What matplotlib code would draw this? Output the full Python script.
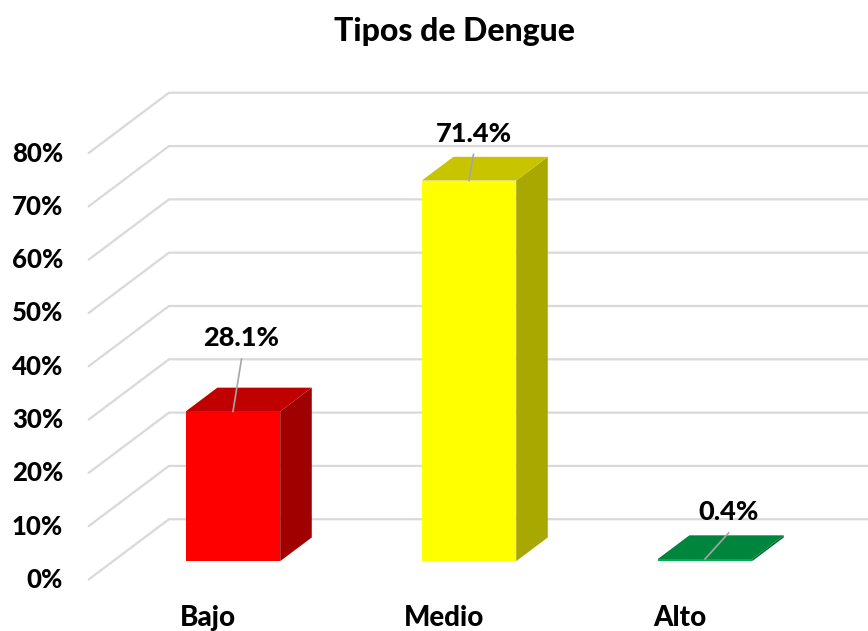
import matplotlib
matplotlib.use("Agg")
import matplotlib.pyplot as plt
from matplotlib.patches import Polygon

plt.rcParams['font.family'] = ['Lato', 'DejaVu Sans']

# data
categories = ['Bajo', 'Medio', 'Alto']
values = [28.1, 71.4, 0.4]
value_labels = ['28.1%', '71.4%', '0.4%']
ticks = [0, 10, 20, 30, 40, 50, 60, 70, 80]
tick_labels = ['0%', '10%', '20%', '30%', '40%', '50%', '60%', '70%', '80%']

front_colors = ['#FF0000', '#FFFF00', '#00B050']
top_colors = ['#C00000', '#C8C400', '#00853D']
side_colors = ['#A00000', '#A8A800', '#006B30']

# oblique projection settings (category units, percent units)
DX, DY = 0.343, 11.4          # full floor depth shift
T0, T1 = 0.31, 0.70           # bar front / back depth
BAR_W = 0.40
label_off = [(0.036, 13.7), (0.019, 8.8), (0.10, 8.8)]
W = 'black'

fig = plt.figure(figsize=(8.68, 6.31), dpi=100)
ax = fig.add_axes([0, 0, 1, 1])
ax.set_xlim(-0.881, 2.797)
ax.set_ylim(-9.57, 108.8)
ax.axis('off')

# gridlines: oblique floor-side part + back wall horizontal
x_left = -0.508
for v, lab in zip(ticks, tick_labels):
    ax.plot([x_left, x_left + DX, 3.2], [v, v + DY, v + DY],
            color='#D9D9D9', lw=1.6, zorder=1, solid_capstyle='butt')
    ax.text(-0.614, v, lab, ha='right', va='center', fontsize=18.5,
            fontweight=W, color='black')

for i, (cat, v) in enumerate(zip(categories, values)):
    cx = i + T0 * DX
    cy = T0 * DY
    x0, x1 = cx - BAR_W / 2, cx + BAR_W / 2
    ddx, ddy = (T1 - T0) * DX, (T1 - T0) * DY
    # side
    ax.add_patch(Polygon([(x1, cy), (x1 + ddx, cy + ddy), (x1 + ddx, cy + ddy + v), (x1, cy + v)],
                         closed=True, fc=side_colors[i], ec='none', zorder=3))
    # top
    ax.add_patch(Polygon([(x0, cy + v), (x1, cy + v), (x1 + ddx, cy + v + ddy), (x0 + ddx, cy + v + ddy)],
                         closed=True, fc=top_colors[i], ec='none', zorder=3))
    # front
    ax.add_patch(Polygon([(x0, cy), (x1, cy), (x1, cy + v), (x0, cy + v)],
                         closed=True, fc=front_colors[i], ec='none', zorder=4))
    # data label + leader line
    lx, ly = cx + label_off[i][0], cy + v + label_off[i][1]
    ax.plot([lx, cx], [ly - 3.9, cy + v], color='#A6A6A6', lw=1.2, zorder=5)
    ax.text(lx, ly, value_labels[i], ha='center', va='center', fontsize=19.5,
            fontweight=W, color='black', zorder=6)
    # category label
    ax.text(i, -7.1, cat, ha='center', va='center', fontsize=20,
            fontweight=W, color='black')

fig.text(454 / 868, 1 - 32 / 631, 'Tipos de Dengue', ha='center', va='center',
         fontsize=23, fontweight=W)

fig.savefig('out.png', dpi=100)
